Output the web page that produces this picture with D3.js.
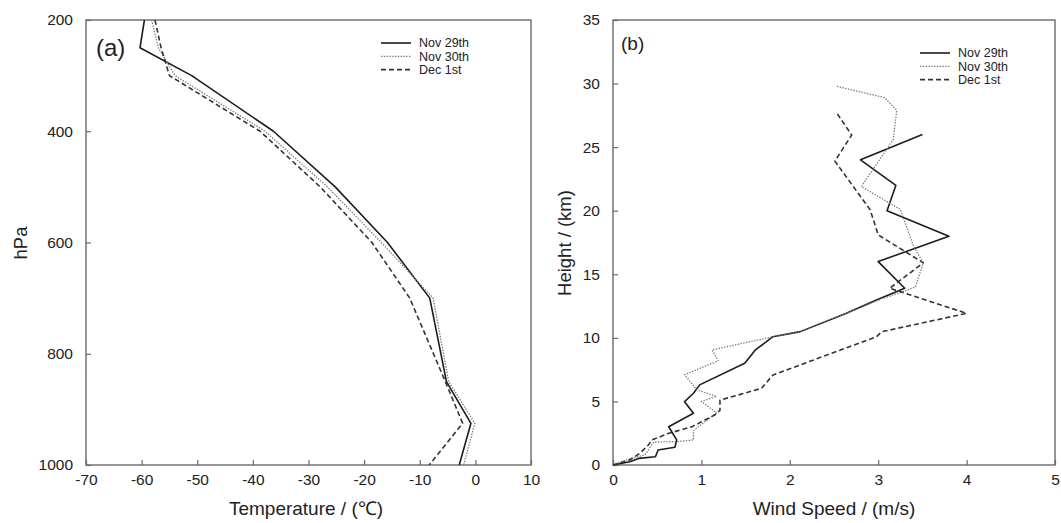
<!DOCTYPE html>
<html>
<head>
<meta charset="utf-8">
<script src="https://cdn.jsdelivr.net/npm/d3@7"></script>
<style>
  html, body { margin: 0; padding: 0; background: #fff; }
  svg { display: block; font-family: "Liberation Sans", Arial, sans-serif; }
</style>
</head>
<body>
<svg id="chart" width="1061" height="523"></svg>
<script>
// ---- Panel (a): temperature profiles on pressure levels ----
const pressureLevels = [200, 250, 300, 400, 500, 600, 700, 850, 925, 1000];
const tempNov29 = [-59.5, -60.3, -51.0, -36.3, -25.2, -15.8, -8.2, -5.2, -0.8, -2.9];
const tempNov30 = [-58.2, -57.0, -54.0, -37.8, -26.6, -16.9, -7.6, -4.8, -0.1, -2.1];
const tempDec1  = [-57.6, -56.5, -55.0, -38.7, -27.9, -18.6, -11.8, -5.4, -2.3, -8.3];
const tempTicks = [-70, -60, -50, -40, -30, -20, -10, 0, 10];
const pressureTicks = [200, 400, 600, 800, 1000];

// ---- Panel (b): wind speed profiles against height ----
const windNov29 = [0, 0.19, 0.29, 0.48, 0.51, 0.70, 0.72, 0.63, 0.91, 0.81, 0.91, 0.98, 1.49, 1.61, 1.81, 2.12, 2.64, 2.98, 3.30, 3.00, 3.80, 3.10, 3.20, 2.80, 3.50];
const hgtNov29  = [0, 0.26, 0.52, 0.65, 1.18, 1.39, 1.97, 3.01, 4.07, 4.98, 5.64, 6.30, 8.00, 9.05, 10.09, 10.49, 11.93, 12.98, 13.90, 16.00, 18.00, 20.00, 22.00, 24.00, 26.00];
const windNov30 = [0, 0.14, 0.36, 0.46, 0.72, 0.91, 0.91, 1.17, 1.00, 1.17, 0.95, 0.81, 1.19, 1.12, 1.81, 2.12, 2.64, 3.05, 3.27, 3.42, 3.51, 3.40, 3.25, 2.81, 3.17, 3.21, 3.07, 2.52];
const hgtNov30  = [0, 0.39, 0.79, 1.80, 1.84, 1.97, 2.70, 4.10, 5.00, 5.40, 5.90, 7.10, 8.20, 9.05, 10.09, 10.49, 11.93, 13.10, 13.60, 14.00, 15.90, 17.20, 20.10, 21.90, 25.60, 27.90, 28.90, 29.80];
const windDec1  = [0, 0.19, 0.30, 0.40, 0.44, 0.63, 0.89, 1.15, 1.21, 1.21, 1.68, 1.81, 2.98, 3.04, 4.00, 3.13, 3.51, 3.00, 2.91, 2.51, 2.70, 2.52];
const hgtDec1   = [0, 0.40, 0.90, 1.57, 1.97, 2.49, 3.00, 3.93, 4.30, 5.10, 6.03, 7.08, 10.09, 10.48, 11.93, 13.90, 15.90, 18.10, 20.06, 23.90, 25.95, 27.80];
const windTicks = [0, 1, 2, 3, 4, 5];
const heightTicks = [0, 5, 10, 15, 20, 25, 30, 35];

const seriesNames = ["Nov 29th", "Nov 30th", "Dec 1st"];
const lineStyles = [
  { stroke: "#1c1c1c", width: 1.6, dash: null },
  { stroke: "#7a7a7a", width: 1.3, dash: "1.4,1.4" },
  { stroke: "#333333", width: 1.6, dash: "5,3" }
];

// plain labels with an ASCII hyphen for negatives
const plainFormat = d => String(d);

const svg = d3.select("#chart");
svg.append("rect").attr("width", 1061).attr("height", 523).attr("fill", "#fff");

const frameColor = "#6a6a6a";
const textColor = "#222";

function drawFrame(g, x, y) {
  const [x0, x1] = x.range();
  const [ya, yb] = y.range();
  g.append("rect")
    .attr("x", x0).attr("y", Math.min(ya, yb))
    .attr("width", x1 - x0).attr("height", Math.abs(yb - ya))
    .attr("fill", "none").attr("stroke", frameColor).attr("stroke-width", 1.4);
}

function styleAxis(sel) {
  sel.select(".domain").remove();
  sel.selectAll(".tick line").attr("stroke", frameColor).attr("stroke-width", 1.2);
  sel.selectAll(".tick text").attr("fill", textColor).style("font-size", "15.5px");
}

function drawLegend(g, x0, y0) {
  seriesNames.forEach((name, i) => {
    const st = lineStyles[i];
    const yy = y0 + i * 13.3;
    g.append("line")
      .attr("x1", x0).attr("x2", x0 + 30).attr("y1", yy).attr("y2", yy)
      .attr("stroke", st.stroke).attr("stroke-width", st.width)
      .attr("stroke-dasharray", st.dash);
    g.append("text")
      .attr("x", x0 + 38).attr("y", yy).attr("dy", "0.35em")
      .attr("fill", textColor).style("font-size", "12.5px")
      .text(name);
  });
}

// ================= Panel (a) =================
const ga = svg.append("g");
const xA = d3.scaleLinear().domain([-70, 10]).range([86, 531]);
const yA = d3.scaleLinear().domain([200, 1000]).range([20, 465]);

ga.append("g").attr("transform", `translate(0,${yA.range()[1]})`)
  .call(d3.axisBottom(xA).tickValues(tempTicks).tickFormat(plainFormat)
    .tickSizeInner(-5).tickSizeOuter(0).tickPadding(9))
  .call(styleAxis);
ga.append("g").attr("transform", `translate(${xA.range()[0]},0)`)
  .call(d3.axisLeft(yA).tickValues(pressureTicks).tickFormat(plainFormat)
    .tickSizeInner(-5).tickSizeOuter(0).tickPadding(13))
  .call(styleAxis);
drawFrame(ga, xA, yA);

svg.append("clipPath").attr("id", "clipA").append("rect")
  .attr("x", 86).attr("y", 20).attr("width", 445).attr("height", 445);

const lineA = d3.line().x(d => xA(d[0])).y(d => yA(d[1]));
[tempNov29, tempNov30, tempDec1].forEach((temps, i) => {
  const st = lineStyles[i];
  ga.append("path")
    .datum(temps.map((t, k) => [t, pressureLevels[k]]))
    .attr("clip-path", "url(#clipA)")
    .attr("d", lineA)
    .attr("fill", "none").attr("stroke", st.stroke).attr("stroke-width", st.width)
    .attr("stroke-dasharray", st.dash).attr("stroke-linejoin", "round");
});

ga.append("text").attr("x", 96).attr("y", 56).attr("fill", textColor)
  .style("font-size", "24px").text("(a)");
drawLegend(ga, 381, 43);

ga.append("text").attr("transform", "translate(27,243) rotate(-90)")
  .attr("text-anchor", "middle").attr("fill", textColor).style("font-size", "18.5px").text("hPa");
ga.append("text").attr("x", 306).attr("y", 515)
  .attr("text-anchor", "middle").attr("fill", textColor).style("font-size", "19px")
  .text("Temperature / (℃)");

// ================= Panel (b) =================
const gb = svg.append("g");
const xB = d3.scaleLinear().domain([0, 5]).range([613, 1055]);
const yB = d3.scaleLinear().domain([0, 35]).range([465, 20]);

gb.append("g").attr("transform", `translate(0,${yB.range()[0]})`)
  .call(d3.axisBottom(xB).tickValues(windTicks).tickFormat(plainFormat)
    .tickSizeInner(-5).tickSizeOuter(0).tickPadding(9))
  .call(styleAxis);
gb.append("g").attr("transform", `translate(${xB.range()[0]},0)`)
  .call(d3.axisLeft(yB).tickValues(heightTicks).tickFormat(plainFormat)
    .tickSizeInner(-5).tickSizeOuter(0).tickPadding(13))
  .call(styleAxis);
drawFrame(gb, xB, yB);

const lineB = d3.line().x(d => xB(d[0])).y(d => yB(d[1]));
[[windNov29, hgtNov29], [windNov30, hgtNov30], [windDec1, hgtDec1]].forEach(([ws, hs], i) => {
  const st = lineStyles[i];
  gb.append("path")
    .datum(ws.map((w, k) => [w, hs[k]]))
    .attr("d", lineB)
    .attr("fill", "none").attr("stroke", st.stroke).attr("stroke-width", st.width)
    .attr("stroke-dasharray", st.dash).attr("stroke-linejoin", "round");
});

gb.append("text").attr("x", 621).attr("y", 50).attr("fill", textColor)
  .style("font-size", "19px").text("(b)");
drawLegend(gb, 920, 53);

gb.append("text").attr("transform", "translate(571,243) rotate(-90)")
  .attr("text-anchor", "middle").attr("fill", textColor).style("font-size", "18.5px").text("Height / (km)");
gb.append("text").attr("x", 834).attr("y", 515)
  .attr("text-anchor", "middle").attr("fill", textColor).style("font-size", "19px")
  .text("Wind Speed / (m/s)");
</script>
</body>
</html>
